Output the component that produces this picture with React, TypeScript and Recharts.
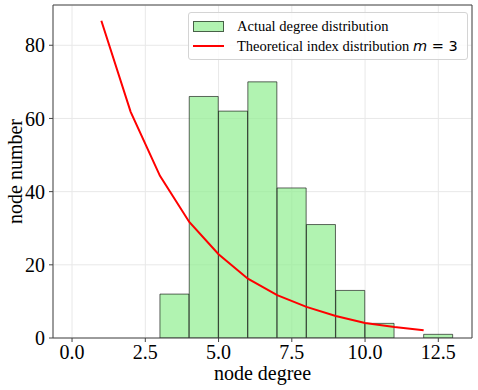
import { ComposedChart, Bar, Line, XAxis, YAxis, CartesianGrid, Legend } from "recharts";

// histogram bins (left edge) and node counts
const binStarts = [3, 4, 5, 6, 7, 8, 9, 10, 11, 12];
const binCounts = [12, 66, 62, 70, 41, 31, 13, 4, 0, 1];

// theoretical curve
const degrees = [1, 2, 3, 4, 5, 6, 7, 8, 9, 10, 11, 12];
const theoretical = [86.7, 61.8, 44.3, 31.7, 22.9, 16.2, 11.7, 8.5, 6.0, 4.1, 3.0, 2.1];

const xTicks = [0, 2.5, 5, 7.5, 10, 12.5];
const yTicks = [0, 20, 40, 60, 80];
const xDomain = [-0.65, 13.65];
const yDomain = [0, 91];

const histData = binStarts.map((s, i) => ({ x: s + 0.5, count: binCounts[i] }));
const lineData = degrees.map((d, i) => ({ x: d, value: theoretical[i] }));

const SPINE = "#444";
const GRID = "#e8e8e8";

const renderLegend = () => (
  <div
    style={{
      border: "1px solid #d4d4d4",
      borderRadius: 3,
      background: "rgba(255,255,255,0.8)",
      padding: "3px 9px 3px 4px",
      fontSize: 14.5,
      lineHeight: "20px",
      color: "#000",
      whiteSpace: "nowrap",
    }}
  >
    <div style={{ display: "flex", alignItems: "center" }}>
      <span
        style={{
          display: "inline-block",
          width: 29,
          height: 9,
          background: "rgba(144,238,144,0.7)",
          border: "1px solid rgba(0,0,0,0.6)",
        }}
      />
      <span style={{ marginLeft: 13 }}>Actual degree distribution</span>
    </div>
    <div style={{ display: "flex", alignItems: "center" }}>
      <span style={{ display: "inline-block", width: 31, height: 2, background: "#ff0000" }} />
      <span style={{ marginLeft: 13 }}>
        Theoretical index distribution{" "}
        <span style={{ fontFamily: '"DejaVu Sans"', fontStyle: "italic" }}>m</span>
        <span style={{ fontFamily: '"DejaVu Sans"' }}> = 3</span>
      </span>
    </div>
  </div>
);

const tickStyle = { fill: "#000", fontSize: 20 };

export default function App() {
  return (
    <div style={{ position: "absolute", left: 0, top: 0, fontFamily: '"Liberation Serif", serif' }}>
      <ComposedChart
        width={478}
        height={390}
        data={histData}
        margin={{ top: 4, right: 5, left: 0, bottom: 0 }}
        barCategoryGap={0}
        barGap={0}
      >
        <CartesianGrid xAxisId="hist" stroke={GRID} strokeWidth={1} />
        <XAxis
          xAxisId="hist"
          dataKey="x"
          type="number"
          domain={xDomain}
          ticks={xTicks}
          allowDataOverflow
          tickFormatter={(v: number) => v.toFixed(1)}
          tick={tickStyle}
          tickSize={4}
          tickMargin={3}
          stroke={SPINE}
          height={52}
          label={{ value: "node degree", position: "insideBottom", offset: 10, fill: "#000", fontSize: 20 }}
        />
        <XAxis
          xAxisId="top"
          dataKey="x"
          type="number"
          orientation="top"
          domain={xDomain}
          allowDataOverflow
          tick={false}
          tickLine={false}
          stroke={SPINE}
          height={1}
        />
        <YAxis
          domain={yDomain}
          ticks={yTicks}
          allowDataOverflow
          tick={tickStyle}
          tickSize={4}
          tickMargin={4}
          stroke={SPINE}
          width={53}
          label={{
            value: "node number",
            angle: -90,
            position: "insideLeft",
            offset: 15,
            fill: "#000",
            fontSize: 20,
            style: { textAnchor: "middle" },
          }}
        />
        <YAxis
          yAxisId="right"
          orientation="right"
          domain={yDomain}
          allowDataOverflow
          tick={false}
          tickLine={false}
          stroke={SPINE}
          width={1}
        />
        <Legend
          layout="vertical"
          align="center"
          verticalAlign="middle"
          content={renderLegend}
          wrapperStyle={{ top: 12, left: 188 }}
        />
        <Bar
          xAxisId="hist"
          dataKey="count"
          fill="#90ee90"
          fillOpacity={0.7}
          stroke="#000"
          strokeOpacity={0.6}
          strokeWidth={1}
          isAnimationActive={false}
        />
        <Line
          xAxisId="top"
          yAxisId="right"
          data={lineData}
          dataKey="value"
          type="linear"
          stroke="#ff0000"
          strokeWidth={2}
          dot={false}
          isAnimationActive={false}
        />
      </ComposedChart>
    </div>
  );
}
